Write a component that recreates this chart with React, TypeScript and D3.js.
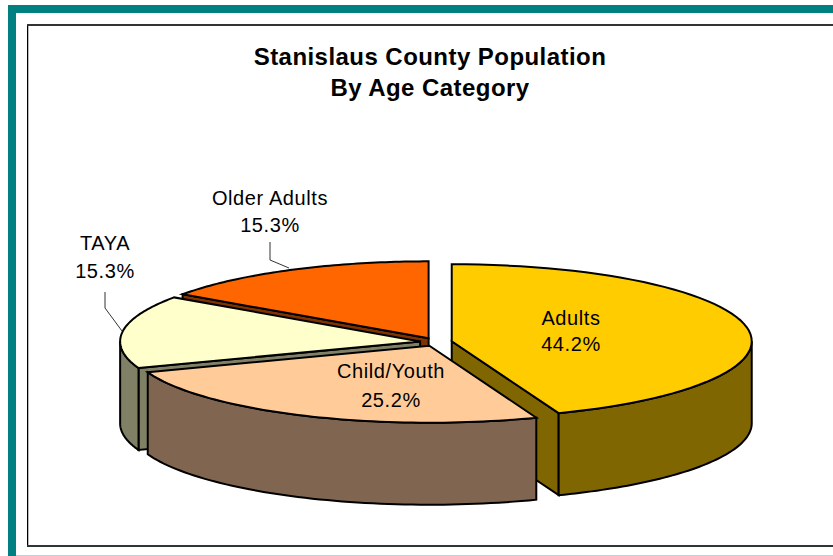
// App.tsx
import React from "react";
import * as d3 from "d3";

const categories = ["Adults", "Child/Youth", "TAYA", "Older Adults"];
const shares = [44.2, 25.2, 15.3, 15.3];
const topColors = ["#FFCC00", "#FFCC99", "#FFFFCC", "#FF6600"];
const wallColors = ["#806600", "#806650", "#808066", "#803300"];
const titleLines = ["Stanislaus County Population", "By Age Category"];

// where the labels sit, same order as categories
const labelX = [571, 391, 105, 270];
const labelY = [325, 378, 250, 205];
const labelGap = [26, 29, 28, 27];
const leaders: ([number, number][] | null)[] = [
  null,
  null,
  [[105, 292], [105, 308], [122, 331]],
  [[270, 242], [270, 260], [289, 268]],
];

// Pie set up
const rx = 300;
const ry = 77;
const depth = 82;
const cx = 436;
const cy = 342;
const explode = 16;

const TAU = Math.PI * 2;
const DRAW_ORDER = [3, 2, 0, 1]; // back to front

const slices = d3.pie<number>().sort(null).startAngle(0).endAngle(TAU)(shares);

const App = () => {
  const line = d3.line<[number, number]>();

  const renderSlice = (i: number) => {
    const { startAngle: a0, endAngle: a1 } = slices[i];
    const mid = (a0 + a1) / 2;
    const ox = cx + explode * Math.sin(mid);
    const oy = cy - (explode * ry * Math.cos(mid)) / rx;

    const point = (t: number, drop = 0): [number, number] => [
      ox + rx * Math.sin(t),
      oy - ry * Math.cos(t) + drop,
    ];
    const rim = (from: number, to: number, drop = 0) =>
      d3.range(0, 61).map((k) => point(from + ((to - from) * k) / 60, drop));

    const apex: [number, number] = [ox, oy];
    const top = [apex, ...rim(a0, a1)];

    // outer wall only shows on the front half of the ellipse
    const w0 = Math.max(a0, Math.PI / 2);
    const w1 = Math.min(a1, (Math.PI * 3) / 2);
    const outerWall = w1 > w0 ? [...rim(w0, w1), ...rim(w1, w0, depth)] : null;

    // cut faces that look towards the viewer
    const cutWalls: [number, number][][] = [];
    if (i === 0) {
      cutWalls.push([apex, point(a1), point(a1, depth), [ox, oy + depth]]);
    }
    if (i === 2 || i === 3) {
      cutWalls.push([apex, point(a0), point(a0, depth), [ox, oy + depth]]);
    }

    return (
      <g key={categories[i]} stroke="#000" strokeWidth={2} strokeLinejoin="miter">
        {cutWalls.map((w, k) => (
          <path key={k} d={line(w) + "Z"} fill={wallColors[i]} />
        ))}
        {outerWall && <path d={line(outerWall) + "Z"} fill={wallColors[i]} />}
        <path d={line(top) + "Z"} fill={topColors[i]} />
      </g>
    );
  };

  return (
    <svg
      width={833}
      height={556}
      style={{ position: "absolute", left: 0, top: 0, background: "#fff" }}
      fontFamily="'Liberation Sans', Arial, sans-serif"
    >
      {/* teal frame */}
      <rect x={8} y={5} width={8} height={551} fill="#008080" />
      <rect x={8} y={5} width={825} height={8} fill="#008080" />
      <rect x={16} y={555} width={817} height={1} fill="#B2D8D8" />

      {/* chart area border */}
      <line x1={27.5} x2={27.5} y1={24} y2={546} stroke="#000" strokeWidth={1} />
      <line x1={28.5} x2={28.5} y1={26} y2={545} stroke="#BBB" strokeWidth={1} />
      <line x1={27} x2={833} y1={25} y2={25} stroke="#333" strokeWidth={2} />
      <line x1={27} x2={833} y1={546} y2={546} stroke="#333" strokeWidth={2} />

      {titleLines.map((t, i) => (
        <text
          key={t}
          x={430}
          y={65 + i * 31}
          textAnchor="middle"
          fontSize={24}
          letterSpacing={0.45}
          fontWeight="bold"
          fill="#000"
        >
          {t}
        </text>
      ))}

      {DRAW_ORDER.map(renderSlice)}

      {leaders.map(
        (pts, i) =>
          pts && (
            <path key={i} d={line(pts) ?? ""} fill="none" stroke="#333" strokeWidth={1} />
          )
      )}

      {categories.map((c, i) => (
        <text
          key={c}
          x={labelX[i]}
          textAnchor="middle"
          fontSize={20}
          letterSpacing={0.6}
          fill="#000"
        >
          <tspan x={labelX[i]} y={labelY[i]}>
            {c}
          </tspan>
          <tspan x={labelX[i]} y={labelY[i] + labelGap[i]}>
            {d3.format(".1f")(shares[i])}%
          </tspan>
        </text>
      ))}
    </svg>
  );
};

export default App;
